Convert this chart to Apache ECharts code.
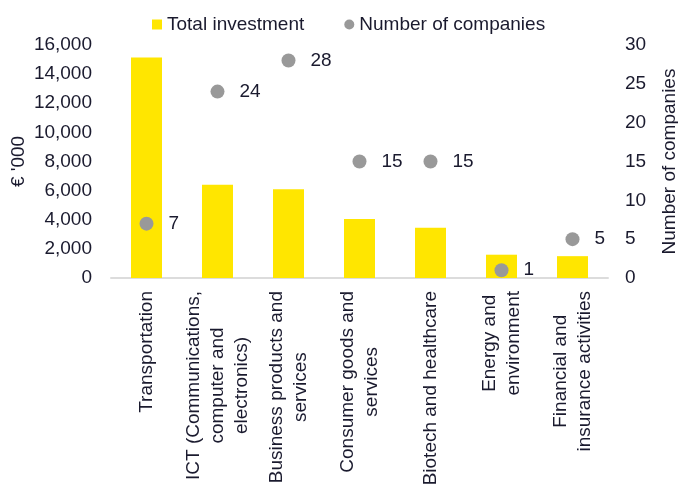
<!DOCTYPE html>
<html>
<head>
<meta charset="utf-8">
<script src="https://cdn.jsdelivr.net/npm/echarts@6/dist/echarts.min.js"></script>
<style>
  html, body { margin: 0; padding: 0; background: #fff; }
  #chart { width: 678px; height: 492px; }
</style>
</head>
<body>
<div id="chart"></div>
<script>
// Sector categories (line breaks as shown under the axis)
const categories = [
  'Transportation',
  'ICT (Communications,\ncomputer and\nelectronics)',
  'Business products and\nservices',
  'Consumer goods and\nservices',
  'Biotech and healthcare',
  'Energy and\nenvironment',
  'Financial and\ninsurance activities'
];
// Total investment, € '000
const totalInvestment = [15150, 6400, 6100, 4050, 3450, 1600, 1500];
// Number of companies per sector
const numberOfCompanies = [7, 24, 28, 15, 15, 1, 5];

const TEXT = '#1a1a2e';
const FONT = 'Liberation Sans, Arial, sans-serif';
const FS = 19;

const chart = echarts.init(document.getElementById('chart'), null, { renderer: 'canvas' });

chart.setOption({
  animation: false,
  textStyle: { fontFamily: FONT, color: TEXT },
  legend: {
    left: 147,
    top: 10,
    itemWidth: 10,
    itemHeight: 10,
    itemGap: 40,
    textStyle: { fontSize: FS, color: TEXT, fontFamily: FONT },
    data: [
      { name: 'Total investment', icon: 'rect' },
      { name: 'Number of companies', icon: 'circle' }
    ]
  },
  grid: { left: 111, right: 70, top: 45, bottom: 214, outerBoundsMode: 'none' },
  xAxis: {
    type: 'category',
    data: categories,
    axisLine: { lineStyle: { color: '#dcdcdc', width: 2 } },
    axisTick: { show: false },
    axisLabel: {
      rotate: 90,
      interval: 0,
      margin: 13,
      fontSize: FS,
      color: TEXT,
      fontFamily: FONT,
      lineHeight: 24,
      formatter: v => v.split('\n').map(s => '{c|' + s + '}').join('\n'),
      rich: { c: { align: 'center', fontSize: FS, color: TEXT, fontFamily: FONT, lineHeight: 24 } }
    }
  },
  yAxis: [
    {
      type: 'value',
      min: 0, max: 16000, interval: 2000,
      name: "€ '000",
      nameLocation: 'middle',
      nameGap: 83,
      nameMoveOverlap: false,
      nameTextStyle: { fontSize: FS, color: TEXT, fontFamily: FONT },
      axisLine: { show: false },
      axisTick: { show: false },
      splitLine: { show: false },
      axisLabel: {
        margin: 19,
        fontSize: FS, color: TEXT, fontFamily: FONT,
        formatter: v => v.toLocaleString('en-US')
      }
    },
    {
      type: 'value',
      min: 0, max: 30, interval: 5,
      name: 'Number of companies',
      nameLocation: 'middle',
      nameGap: 52,
      nameRotate: 90,
      nameMoveOverlap: false,
      nameTextStyle: { fontSize: FS, color: TEXT, fontFamily: FONT },
      axisLine: { show: false },
      axisTick: { show: false },
      splitLine: { show: false },
      axisLabel: { margin: 17, fontSize: FS, color: TEXT, fontFamily: FONT }
    }
  ],
  series: [
    {
      name: 'Total investment',
      type: 'bar',
      yAxisIndex: 0,
      data: totalInvestment,
      barWidth: 31,
      itemStyle: { color: '#FFE600' }
    },
    {
      name: 'Number of companies',
      type: 'scatter',
      yAxisIndex: 1,
      data: numberOfCompanies,
      symbol: 'circle',
      symbolSize: 14,
      itemStyle: { color: '#999999', opacity: 1 },
      label: {
        show: true,
        position: 'right',
        distance: 15,
        fontSize: FS,
        color: TEXT,
        fontFamily: FONT
      }
    }
  ]
});
</script>
</body>
</html>
